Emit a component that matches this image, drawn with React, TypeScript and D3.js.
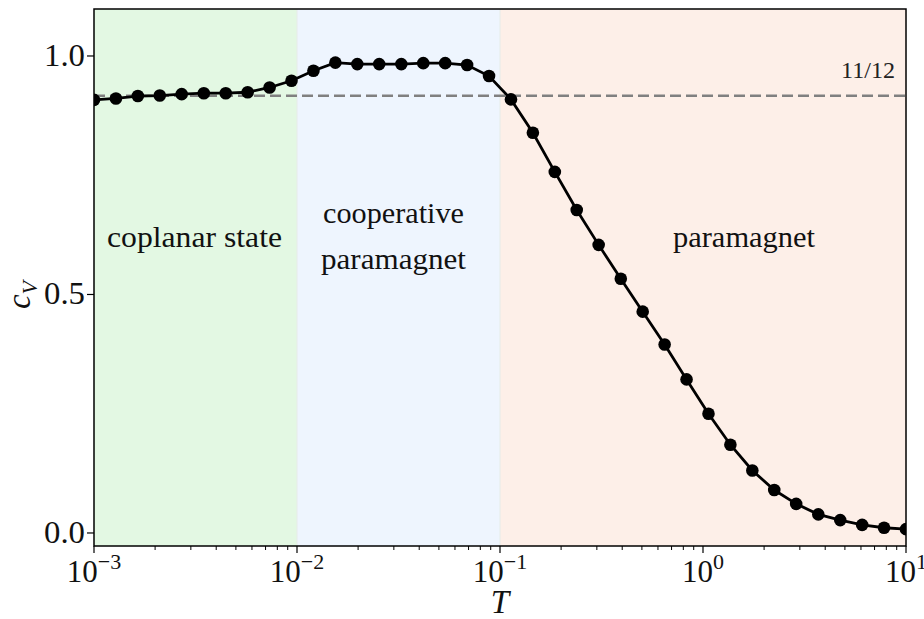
import React from "react";
import * as d3 from "d3";

const W = 924, H = 619;
const M = { left: 94, right: 906, top: 9, bottom: 546 };

// T values: 38 log-spaced points from 1e-3 to 1e1
const logT: number[] = [
  -3, -2.892, -2.784, -2.676, -2.568, -2.459, -2.351, -2.243, -2.135, -2.027,
  -1.919, -1.811, -1.703, -1.595, -1.486, -1.378, -1.27, -1.162, -1.054, -0.946,
  -0.838, -0.73, -0.622, -0.514, -0.405, -0.297, -0.189, -0.081, 0.027, 0.135,
  0.243, 0.351, 0.459, 0.568, 0.676, 0.784, 0.892, 1,
];
const cV: number[] = [
  0.908, 0.911, 0.916, 0.917, 0.92, 0.922, 0.922, 0.924, 0.934, 0.948,
  0.969, 0.986, 0.983, 0.983, 0.983, 0.985, 0.985, 0.981, 0.958, 0.909,
  0.839, 0.757, 0.677, 0.604, 0.533, 0.464, 0.395, 0.322, 0.25, 0.185,
  0.131, 0.09, 0.061, 0.039, 0.027, 0.017, 0.011, 0.008,
];

const regions = [
  { from: 1e-3, to: 1e-2, color: "#e3f8e3" },
  { from: 1e-2, to: 1e-1, color: "#eef5fe" },
  { from: 1e-1, to: 1e1, color: "#fdefe8" },
];
const regionLabels = [
  { lines: ["coplanar state"], x: 194.5, y: 247, widths: [175] },
  { lines: ["cooperative", "paramagnet"], x: 393.5, y: 223, widths: [141, 145] },
  { lines: ["paramagnet"], x: 744, y: 247, widths: [142] },
];
const yTicks = [0, 0.5, 1.0];
const yTickLabels = ["0.0", "0.5", "1.0"];
const xTicks = [1e-3, 1e-2, 1e-1, 1, 10];
const xTickExps = ["−3", "−2", "−1", "0", "1"];
const refValue = 11 / 12;
const refLabel = "11/12";

const FONT = "Liberation Serif";

export default function App() {
  const x = d3.scaleLog().domain([1e-3, 10]).range([M.left, M.right]);
  const y = d3.scaleLinear().domain([-0.0273, 1.0985]).range([M.bottom, M.top]);
  const pts = logT.map((l, i) => ({ t: Math.pow(10, l), v: cV[i] }));
  const line = d3.line<{ t: number; v: number }>().x(d => x(d.t)).y(d => y(d.v));

  const minor: number[] = [];
  for (let e = -3; e < 1; e++) for (let k = 2; k <= 9; k++) minor.push(k * Math.pow(10, e));

  return (
    <svg width={W} height={H} fontFamily={FONT} style={{ position: "absolute", left: 0, top: 0, background: "#fff" }}>
      <defs>
        <clipPath id="plot">
          <rect x={M.left} y={M.top} width={M.right - M.left} height={M.bottom - M.top} />
        </clipPath>
      </defs>
      {regions.map((r, i) => (
        <rect key={i} x={x(r.from)} y={M.top} width={x(r.to) - x(r.from)} height={M.bottom - M.top} fill={r.color} />
      ))}
      {[1e-2, 1e-1].map((b, i) => (
        <line key={i} x1={x(b)} x2={x(b)} y1={M.top} y2={M.bottom} stroke="#e6ece8" strokeWidth={1} />
      ))}
      <line x1={M.left} x2={M.right} y1={y(refValue)} y2={y(refValue)} stroke="#808080" strokeWidth={2.6} strokeDasharray="11,5" />
      <text x={895} y={78} fontFamily={FONT} fontSize={23} textAnchor="end" fill="#222" textLength={54} lengthAdjust="spacingAndGlyphs">{refLabel}</text>
      {regionLabels.map((r, i) =>
        r.lines.map((ln, j) => (
          <text key={i + "-" + j} x={r.x} y={r.y + j * 46} fontFamily={FONT} fontSize={29} textAnchor="middle" fill="#111"
            textLength={r.widths[j]} lengthAdjust="spacingAndGlyphs">{ln}</text>
        ))
      )}
      <g clipPath="url(#plot)">
        <path d={line(pts) || ""} fill="none" stroke="#000" strokeWidth={2.8} />
        {pts.map((p, i) => (
          <circle key={i} cx={x(p.t)} cy={y(p.v)} r={6.3} fill="#000" />
        ))}
      </g>
      <rect x={M.left} y={M.top} width={M.right - M.left} height={M.bottom - M.top} fill="none" stroke="#000" strokeWidth={1.5} />
      {xTicks.map((t, i) => (
        <g key={i}>
          <line x1={x(t)} x2={x(t)} y1={M.bottom} y2={M.bottom + 7} stroke="#000" strokeWidth={1.2} />
          <text x={x(t)} y={582} fontFamily={FONT} fontSize={31} textAnchor="middle" fill="#111">
            10<tspan dy={-13} fontSize={22}>{xTickExps[i]}</tspan>
          </text>
        </g>
      ))}
      {minor.map((t, i) => (
        <line key={i} x1={x(t)} x2={x(t)} y1={M.bottom} y2={M.bottom + 4} stroke="#000" strokeWidth={1} />
      ))}
      {yTicks.map((t, i) => (
        <g key={i}>
          <line x1={M.left - 7} x2={M.left} y1={y(t)} y2={y(t)} stroke="#000" strokeWidth={1.2} />
          <text x={85} y={y(t) + 10} fontFamily={FONT} fontSize={31} textAnchor="end" fill="#111"
            textLength={41} lengthAdjust="spacingAndGlyphs">{yTickLabels[i]}</text>
        </g>
      ))}
      <text x={500} y={613} fontFamily={FONT} fontSize={33} fontStyle="italic" textAnchor="middle" fill="#111">T</text>
      <text transform="translate(30,295) rotate(-90)" fontFamily={FONT} fontSize={33} fontStyle="italic" textAnchor="middle" fill="#111">
        c<tspan dy={7} fontSize={22}>V</tspan>
      </text>
    </svg>
  );
}
